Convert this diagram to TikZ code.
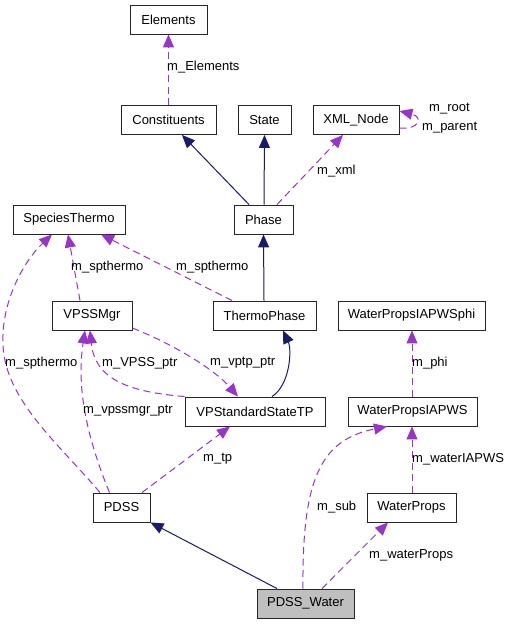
\documentclass[tikz,border=0pt]{standalone}
\usepackage{fontspec}
\setmainfont{Liberation Sans}
\usetikzlibrary{arrows.meta,calc}
\definecolor{edgepurple}{HTML}{9A32CD}
\definecolor{edgenavy}{HTML}{191970}
\begin{document}
\begin{tikzpicture}[x=1pt,y=-1pt,
  box/.style={draw=black!85, line width=0.9pt, minimum height=29pt, inner sep=0pt, font=\fontsize{13}{15}\selectfont},
  use/.style={draw=edgepurple, line width=1pt, dash pattern=on 7pt off 4.5pt, -{Triangle[length=13pt,width=11pt]}},
  inh/.style={draw=edgenavy, line width=1pt, -{Triangle[length=13pt,width=11pt]}},
  lbl/.style={anchor=west, inner sep=0pt, font=\fontsize{13}{15}\selectfont}]
\useasboundingbox (0,0) rectangle (508,624);
% nodes
\node[box, minimum width=77pt] (Elements) at (168.5,19.5) {Elements};
\node[box, minimum width=95pt] (Constituents) at (168.5,120) {Constituents};
\node[box, minimum width=53pt] (State) at (264.5,120) {State};
\node[box, minimum width=86pt] (XMLNode) at (356,120) {XML\_Node};
\node[box, minimum width=112pt] (SpeciesThermo) at (69,219.5) {SpeciesThermo};
\node[box, minimum width=59pt] (Phase) at (263.5,219.5) {Phase};
\node[box, minimum width=80pt] (VPSSMgr) at (92,315.5) {VPSSMgr};
\node[box, minimum width=103pt] (ThermoPhase) at (264.5,315.5) {ThermoPhase};
\node[box, minimum width=147pt] (WPphi) at (411.5,315.5) {WaterPropsIAPWSphi};
\node[box, minimum width=140pt] (VPStd) at (255,411.5) {VPStandardStateTP};
\node[box, minimum width=129pt] (WPIAPWS) at (412.5,411.5) {WaterPropsIAPWS};
\node[box, minimum width=57pt] (PDSS) at (121.5,507.5) {PDSS};
\node[box, minimum width=89pt] (WaterProps) at (411.5,507.5) {WaterProps};
\node[box, minimum width=97pt, fill={rgb,255:red,191;green,191;blue,191}] (PDSSW) at (305.5,603.5) {PDSS\_Water};
% edges
\draw[use] (Constituents.north) -- (Elements.south);
\node[lbl] (lElements) at (167,67) {m\_Elements};
\draw[inh] ($(Phase.north)+(-14.5,0)$) -- ($(Constituents.south)+(13.5,0)$);
\draw[inh] ($(Phase.north)+(0.5,0)$) -- (State.south);
\draw[use] ($(Phase.north)+(13.5,0)$) -- ($(XMLNode.south)+(-13,0)$);
\node[lbl] (lxml) at (317,171) {m\_xml};
\draw[use] ($(XMLNode.east)+(0,8)$) .. controls +(20,2) and +(24,6) .. ($(XMLNode.east)+(0,-9)$);
\node[lbl] (lroot) at (429,109) {m\_root};
\node[lbl] (lparent) at (422,128) {m\_parent};
\draw[inh] ($(ThermoPhase.north)+(-0.5,0)$) -- (Phase.south);
\draw[use] ($(ThermoPhase.north)+(-32.5,0)$) -- ($(SpeciesThermo.south)+(32,0)$);
\node[lbl] (lsp1) at (176,267) {m\_spthermo};
\draw[use] ($(VPSSMgr.north)+(-12,0)$) -- ($(SpeciesThermo.south)+(-1,0)$);
\node[lbl] (lsp2) at (71,267) {m\_spthermo};
\draw[use] ($(PDSS.north)+(-21.5,0)$) .. controls (60,445) and (5,400) .. (3,345) .. controls (1,300) and (25,260) .. ($(SpeciesThermo.south)+(-17,0)$);
\node[lbl] (lsp3) at (5,363) {m\_spthermo};
\draw[use] (VPStd.north west) .. controls (130,392) and (95,380) .. ($(VPSSMgr.south)+(-2,0)$);
\node[lbl] (lvpss) at (102,363) {m\_VPSS\_ptr};
\draw[use] ($(VPSSMgr.east)+(0,12.5)$) .. controls (175,345) and (215,370) .. ($(VPStd.north)+(-17,0)$);
\node[lbl] (lvptp) at (210,363) {m\_vptp\_ptr};
\draw[inh] ($(VPStd.north)+(17,0)$) .. controls (290,385) and (292,350) .. ($(ThermoPhase.south)+(18.5,0)$);
\draw[use] ($(PDSS.north)+(-12,0)$) .. controls (88,440) and (76,390) .. ($(VPSSMgr.south)+(-7,0)$);
\node[lbl] (lvpssmgr) at (83,411) {m\_vpssmgr\_ptr};
\draw[use] ($(PDSS.north)+(20.5,0)$) -- ($(VPStd.south)+(-25,0)$);
\node[lbl] (ltp) at (203,459) {m\_tp};
\draw[use] ($(WPIAPWS.north)+(-0.5,0)$) -- ($(WPphi.south)+(0.5,0)$);
\node[lbl] (lphi) at (412,363) {m\_phi};
\draw[use] ($(WaterProps.north)+(0.5,0)$) -- ($(WPIAPWS.south)+(-0.5,0)$);
\node[lbl] (lwiapws) at (412,459) {m\_waterIAPWS};
\draw[use] ($(PDSSW.north)+(-2.5,0)$) .. controls (302,480) and (320,440) .. ($(WPIAPWS.south)+(-25.5,0)$);
\node[lbl] (lsub) at (317,507) {m\_sub};
\draw[use] ($(PDSSW.north)+(16.5,0)$) -- ($(WaterProps.south)+(-23.5,0)$);
\node[lbl] (lwp) at (369,555) {m\_waterProps};
\draw[inh] ($(PDSSW.north)+(-28.5,0)$) -- (PDSS.south east);
\end{tikzpicture}
\end{document}
